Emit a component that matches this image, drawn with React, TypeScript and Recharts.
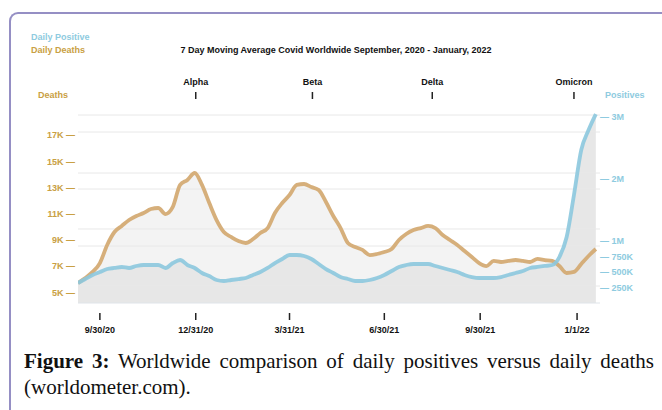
import React from "react";
import {
  ComposedChart,
  Area,
  Line,
  XAxis,
  YAxis,
  ReferenceLine,
} from "recharts";

// day offsets from 9/30/20, one point per week
const days = [
  -21, -14, -7, 0, 7, 14, 21, 28, 35, 42, 49, 56, 63, 70, 77, 84, 91, 98,
  105, 112, 119, 126, 133, 140, 147, 154, 161, 168, 175, 182, 189, 196, 203,
  210, 217, 224, 231, 238, 245, 252, 259, 266, 273, 280, 287, 294, 301, 308,
  315, 322, 329, 336, 343, 350, 357, 364, 371, 378, 385, 392, 399, 406, 413,
  420, 427, 434, 441, 448, 455, 462, 469, 476,
];

// 7 day average daily deaths
const deaths = [
  5730, 6110, 6570, 7250, 8630, 9620, 10080, 10530, 10840, 11070, 11370,
  11450, 10990, 11530, 13210, 13590, 14120, 13210, 11830, 10530, 9620, 9240,
  8930, 8780, 9080, 9540, 9920, 11070, 11830, 12440, 13210, 13280, 13050,
  12820, 11910, 10840, 9920, 8780, 8470, 8250, 7860, 7940, 8090, 8320, 9010,
  9470, 9770, 9920, 10080, 9920, 9390, 9010, 8630, 8170, 7710, 7250, 7020,
  7410, 7330, 7410, 7480, 7410, 7330, 7560, 7480, 7410, 7020, 6490, 6570,
  7180, 7790, 8320,
];

// 7 day average daily positives
const positives = [
  323000, 387000, 452000, 500000, 548000, 565000, 581000, 565000, 597000,
  613000, 613000, 613000, 565000, 645000, 694000, 613000, 565000, 484000,
  435000, 371000, 355000, 371000, 387000, 403000, 452000, 500000, 565000,
  645000, 710000, 774000, 774000, 758000, 710000, 629000, 548000, 484000,
  419000, 387000, 355000, 355000, 371000, 403000, 452000, 516000, 581000,
  613000, 629000, 629000, 629000, 597000, 565000, 532000, 500000, 452000,
  419000, 403000, 403000, 403000, 419000, 452000, 484000, 516000, 565000,
  581000, 597000, 613000, 742000, 1065000, 1742000, 2468000, 2790000, 3048000,
];

const dateTicks = [0, 92, 182, 273, 365, 458];
const dateLabels = ["9/30/20", "12/31/20", "3/31/21", "6/30/21", "9/30/21", "1/1/22"];

const variantTicks = [92, 204, 319, 455];
const variantLabels = ["Alpha", "Beta", "Delta", "Omicron"];

const deathTicks = [5000, 7000, 9000, 11000, 13000, 15000, 17000];
const positiveTicks = [250000, 500000, 750000, 1000000, 2000000, 3000000];

// light horizontal guide lines (positives scale)
const gridValues = [3032000, 2758000, 2097000, 1839000, 1194000, 919000, 274000];

const data = days.map((d, i) => ({
  day: d,
  deaths: deaths[i],
  positives: positives[i],
}));

const GOLD = "#c9a043";
const BLUE = "#8ecbe0";
const TAN = "#d4ab74";
const LINE_BLUE = "#8cc8de";
const SANS = '"Liberation Sans", Arial, Helvetica, sans-serif';
const SERIF = '"Liberation Serif", "Times New Roman", serif';

const DeathTick = ({ x, y, payload }: any) => (
  <text x={x} y={y} dy="0.35em" textAnchor="end" fill={GOLD} fontSize={9} fontWeight="bold" fontFamily={SANS}>
    {payload.value / 1000}K —
  </text>
);

const PositiveTick = ({ x, y, payload }: any) => {
  const v = payload.value;
  const label = v >= 1000000 ? `${v / 1000000}M` : `${v / 1000}K`;
  return (
    <text x={x} y={y} dy="0.35em" textAnchor="start" fill={BLUE} fontSize={9} fontWeight="bold" fontFamily={SANS}>
      — {label}
    </text>
  );
};

const DateTick = ({ x, y, payload }: any) => {
  const label = dateLabels[dateTicks.indexOf(payload.value)];
  return (
    <g>
      <line x1={x} x2={x} y1={y + 10} y2={y + 17} stroke="#222" strokeWidth={1.5} />
      <text x={x} y={y + 30} textAnchor="middle" fill="#111" fontSize={9} fontWeight="bold" fontFamily={SANS}>
        {label}
      </text>
    </g>
  );
};

const VariantTick = ({ x, y, payload }: any) => {
  const label = variantLabels[variantTicks.indexOf(payload.value)];
  return (
    <g>
      <text x={x} y={y - 28} textAnchor="middle" fill="#111" fontSize={9} fontWeight="bold" fontFamily={SANS}>
        {label}
      </text>
      <line x1={x} x2={x} y1={y - 21} y2={y - 14} stroke="#222" strokeWidth={1.5} />
    </g>
  );
};

const txt = (extra: React.CSSProperties): React.CSSProperties => ({
  position: "absolute",
  fontSize: 9,
  fontWeight: "bold",
  lineHeight: "10px",
  whiteSpace: "nowrap",
  fontFamily: SANS,
  ...extra,
});

const captionLine = (top: number, justify: boolean): React.CSSProperties => ({
  position: "absolute",
  left: 24,
  top,
  width: 630,
  fontFamily: SERIF,
  fontSize: 21,
  lineHeight: "26px",
  whiteSpace: "nowrap",
  textAlign: justify ? "justify" : "left",
  textAlignLast: justify ? "justify" : "left",
  color: "#111",
});

export default function App() {
  return (
    <div
      style={{
        position: "absolute",
        left: 0,
        top: 0,
        width: 662,
        height: 410,
        overflow: "hidden",
        background: "#fff",
      }}
    >
      <div
        style={{
          position: "absolute",
          left: 9,
          top: 12,
          width: 700,
          height: 450,
          borderLeft: "2px solid #958fc4",
          borderTop: "2px solid #958fc4",
          borderTopLeftRadius: 9,
        }}
      />
      <div style={txt({ left: 31, top: 32, color: BLUE })}>Daily Positive</div>
      <div style={txt({ left: 31, top: 45, color: GOLD })}>Daily Deaths</div>
      <div style={txt({ left: 336, top: 45, color: "#111", transform: "translateX(-50%)" })}>
        7 Day Moving Average Covid Worldwide September, 2020 - January, 2022
      </div>
      <div style={txt({ left: 38, top: 90, color: GOLD })}>Deaths</div>
      <div style={txt({ left: 605, top: 90, color: BLUE })}>Positives</div>

      <div style={{ position: "absolute", left: 0, top: 0 }}>
        <ComposedChart
          width={662}
          height={340}
          data={data}
          margin={{ top: 73, right: 22, bottom: 7, left: 38 }}
        >
          <XAxis
            dataKey="day"
            type="number"
            domain={[-21, 480]}
            allowDataOverflow
            ticks={dateTicks}
            interval={0}
            tick={<DateTick />}
            tickLine={false}
            tickSize={0}
            tickMargin={0}
            axisLine={{ stroke: "#dfe4e9" }}
            height={30}
          />
          <XAxis
            xAxisId="top"
            orientation="top"
            dataKey="day"
            type="number"
            domain={[-21, 480]}
            allowDataOverflow
            ticks={variantTicks}
            interval={0}
            tick={<VariantTick />}
            tickLine={false}
            tickSize={0}
            tickMargin={0}
            axisLine={false}
            height={40}
          />
          <YAxis
            yAxisId="d"
            type="number"
            domain={[4200, 18700]}
            allowDataOverflow
            ticks={deathTicks}
            interval={0}
            tick={<DeathTick />}
            tickLine={false}
            tickSize={0}
            tickMargin={3}
            axisLine={false}
            width={40}
          />
          <YAxis
            yAxisId="p"
            orientation="right"
            type="number"
            domain={[0, 3065000]}
            allowDataOverflow
            ticks={positiveTicks}
            interval={0}
            tick={<PositiveTick />}
            tickLine={false}
            tickSize={0}
            tickMargin={0}
            axisLine={false}
            width={40}
          />
          <Area
            yAxisId="d"
            dataKey="deaths"
            type="monotone"
            fill="#f3f3f3"
            fillOpacity={1}
            stroke="none"
            isAnimationActive={false}
          />
          <Area
            yAxisId="p"
            dataKey="positives"
            type="monotone"
            fill="#e7e7e7"
            fillOpacity={1}
            stroke="none"
            isAnimationActive={false}
          />
          {gridValues.map((v) => (
            <ReferenceLine key={v} yAxisId="p" y={v} stroke="#e8e8e8" strokeWidth={1} />
          ))}
          <Line
            yAxisId="d"
            dataKey="deaths"
            type="monotone"
            stroke={TAN}
            strokeWidth={3.8}
            strokeOpacity={0.95}
            dot={false}
            isAnimationActive={false}
          />
          <Line
            yAxisId="p"
            dataKey="positives"
            type="monotone"
            stroke={LINE_BLUE}
            strokeWidth={3.8}
            strokeOpacity={0.9}
            dot={false}
            isAnimationActive={false}
          />
        </ComposedChart>
      </div>

      <div style={captionLine(348, true)}>
        <b>Figure 3:</b> Worldwide comparison of daily positives versus daily deaths
      </div>
      <div style={captionLine(374, false)}>(worldometer.com).</div>
    </div>
  );
}
